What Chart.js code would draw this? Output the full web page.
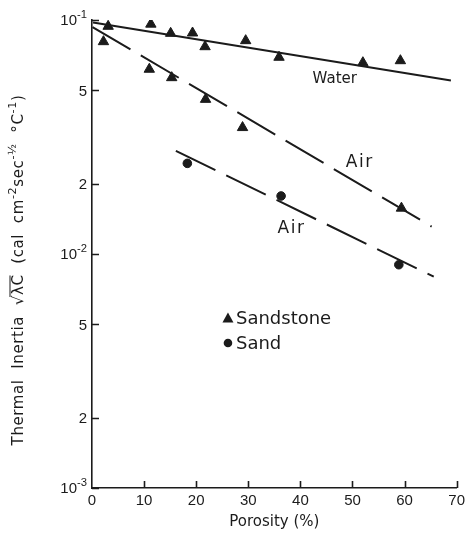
<!DOCTYPE html>
<html>
<head>
<meta charset="utf-8">
<script src="https://cdn.jsdelivr.net/npm/chart.js@4.4.1/dist/chart.umd.min.js"></script>
<style>
  html, body { margin: 0; padding: 0; background: #fff; }
  #wrap { width: 469px; height: 533px; }
</style>
</head>
<body>
<div id="wrap"><canvas id="chart" width="469" height="533"></canvas></div>
<script>
// Sandstone points (triangles) and sand points (circles)
const sandstoneX = [3.1, 11.3, 15.1, 19.3, 21.7, 29.5, 35.9, 52, 59.2, 2.2, 11, 15.3, 21.8, 28.9, 59.4];
const sandstoneY = [0.094, 0.096, 0.0877, 0.088, 0.0769, 0.0816, 0.0693, 0.0657, 0.067, 0.0808, 0.0616, 0.0567, 0.0458, 0.0347, 0.0157];
const sandX = [18.3, 36.3, 58.9];
const sandY = [0.0244, 0.0177, 0.009];

// fitted lines
const waterLineX = [0.2, 68.9];
const waterLineY = [0.0975, 0.0551];
const airStoneLineX = [0.1, 65.2];
const airStoneLineY = [0.0933, 0.0131];
const airSandLineX = [16.1, 65.6];
const airSandLineY = [0.0276, 0.008];

const xTicks = [0, 10, 20, 30, 40, 50, 60, 70];
const yTicks = [0.001, 0.002, 0.005, 0.01, 0.02, 0.05, 0.1];
const yTickText = [["10", "-3"], ["2", ""], ["5", ""], ["10", "-2"], ["2", ""], ["5", ""], ["10", "-1"]];

// text labels placed in data units
const notes = [
  { text: "Water", x: 46.6, y: 0.056, size: 15, spacing: 0 },
  { text: "Air", x: 51.4, y: 0.0246, size: 17, spacing: 1.5 },
  { text: "Air", x: 38.3, y: 0.0129, size: 17, spacing: 1.5 }
];

const ink = "#1b1b1b";
const font = "'Liberation Sans', Arial, sans-serif";
const wide = "'DejaVu Sans', sans-serif";

const pts = (xs, ys) => xs.map((x, i) => ({ x: x, y: ys[i] }));

function richWidth(ctx, parts, size, fam) {
  let w = 0;
  parts.forEach(p => {
    ctx.font = (p[1] ? size * 0.75 : size) + "px " + fam;
    w += ctx.measureText(p[0]).width;
  });
  return w;
}
function drawRich(ctx, parts, size, fam, x, y) {
  let cx = x;
  parts.forEach(p => {
    ctx.font = (p[1] ? size * 0.75 : size) + "px " + fam;
    ctx.fillText(p[0], cx, p[1] ? y - size * 0.42 : y);
    cx += ctx.measureText(p[0]).width;
  });
}

const decor = {
  id: "decor",
  afterDatasetsDraw(chart) {
    const ctx = chart.ctx;
    const xs = chart.scales.x, ys = chart.scales.y;
    const area = chart.chartArea;
    ctx.save();
    ctx.strokeStyle = ink;
    ctx.fillStyle = ink;
    ctx.lineWidth = 1.6;

    // inward ticks
    ctx.beginPath();
    yTicks.forEach(v => {
      const py = Math.round(ys.getPixelForValue(v)) + 0.5;
      ctx.moveTo(area.left, py);
      ctx.lineTo(area.left + 7, py);
    });
    xTicks.slice(1).forEach(v => {
      const px = Math.round(xs.getPixelForValue(v)) + 0.5;
      ctx.moveTo(px, area.bottom);
      ctx.lineTo(px, area.bottom - 7);
    });
    ctx.stroke();

    // y tick labels with superscripts
    ctx.textBaseline = "middle";
    ctx.textAlign = "left";
    yTicks.forEach((v, i) => {
      const parts = [[yTickText[i][0], false]];
      if (yTickText[i][1]) parts.push([yTickText[i][1], true]);
      const w = richWidth(ctx, parts, 15, font);
      const py = ys.getPixelForValue(v);
      drawRich(ctx, parts, 15, font, area.left - 5 - w, py + 1);
    });

    // series labels
    ctx.textAlign = "center";
    notes.forEach(n => {
      ctx.font = n.size + "px " + wide;
      ctx.letterSpacing = n.spacing + "px";
      ctx.fillText(n.text, xs.getPixelForValue(n.x), ys.getPixelForValue(n.y));
    });
    ctx.letterSpacing = "0px";

    // legend
    const lx = xs.getPixelForValue(26.1);
    const ly1 = ys.getPixelForValue(0.00533);
    const ly2 = ly1 + 25;
    ctx.beginPath();
    ctx.moveTo(lx, ly1 - 5.5);
    ctx.lineTo(lx + 5.5, ly1 + 4.5);
    ctx.lineTo(lx - 5.5, ly1 + 4.5);
    ctx.closePath();
    ctx.fill();
    ctx.beginPath();
    ctx.arc(lx, ly2, 4.3, 0, Math.PI * 2);
    ctx.fill();
    ctx.textAlign = "left";
    ctx.font = "18px " + wide;
    ctx.fillText("Sandstone", lx + 8, ly1 + 1);
    ctx.fillText("Sand", lx + 8, ly2 + 1);

    // y axis title
    const title = [["Thermal  Inertia  \u221A", false], ["\u03BBC", false], ["  (cal  cm", false], ["-2", true],
      ["sec", false], ["-\u00BD", true], ["  \u00B0C", false], ["-1", true], [")", false]];
    const tsize = 15;
    ctx.letterSpacing = "0.6px";
    const tw = richWidth(ctx, title, tsize, wide);
    ctx.translate(19, 270);
    ctx.rotate(-Math.PI / 2);
    ctx.textAlign = "left";
    drawRich(ctx, title, tsize, wide, -tw / 2, 0);
    // overline on lambda C
    ctx.font = tsize + "px " + wide;
    const pre = ctx.measureText("Thermal  Inertia  ").width;
    const root = ctx.measureText("\u221A").width;
    const lc = ctx.measureText("\u03BBC").width;
    ctx.lineWidth = 1;
    ctx.beginPath();
    ctx.moveTo(-tw / 2 + pre + root - 2, -9);
    ctx.lineTo(-tw / 2 + pre + root + lc - 1, -9);
    ctx.stroke();
    ctx.restore();
  }
};

new Chart(document.getElementById("chart"), {
  type: "scatter",
  data: {
    datasets: [
      {
        label: "Water",
        data: pts(waterLineX, waterLineY),
        showLine: true,
        borderColor: ink,
        borderWidth: 2,
        pointRadius: 0
      },
      {
        label: "Air (sandstone)",
        data: pts(airStoneLineX, airStoneLineY),
        showLine: true,
        borderColor: ink,
        borderWidth: 2,
        borderDash: [44, 12],
        pointRadius: 0
      },
      {
        label: "Air (sand)",
        data: pts(airSandLineX, airSandLineY),
        showLine: true,
        borderColor: ink,
        borderWidth: 2,
        borderDash: [44, 12],
        pointRadius: 0
      },
      {
        label: "Sandstone",
        data: pts(sandstoneX, sandstoneY),
        pointStyle: "triangle",
        pointRadius: 6,
        backgroundColor: ink,
        borderColor: ink,
        borderWidth: 1
      },
      {
        label: "Sand",
        data: pts(sandX, sandY),
        pointStyle: "circle",
        pointRadius: 4.3,
        backgroundColor: ink,
        borderColor: ink,
        borderWidth: 1
      }
    ]
  },
  options: {
    responsive: false,
    animation: false,
    layout: { padding: { top: 20, right: 12, left: 0, bottom: 0 } },
    plugins: {
      legend: { display: false },
      tooltip: { enabled: false }
    },
    scales: {
      x: {
        type: "linear",
        min: 0,
        max: 70,
        grid: { display: false, drawTicks: false },
        border: { display: true, color: ink, width: 1.6 },
        afterBuildTicks: s => { s.ticks = xTicks.map(v => ({ value: v })); },
        afterFit: s => { s.height = 45; },
        ticks: {
          color: ink,
          padding: 4,
          maxRotation: 0,
          font: { family: font, size: 15 }
        },
        title: {
          display: true,
          text: "Porosity (%)",
          color: ink,
          padding: { top: 0, bottom: 2 },
          font: { family: wide, size: 15 }
        }
      },
      y: {
        type: "logarithmic",
        min: 0.001,
        max: 0.1,
        grid: { display: false },
        border: { display: true, color: ink, width: 1.6 },
        afterBuildTicks: s => { s.ticks = yTicks.map(v => ({ value: v })); },
        afterFit: s => { s.width = 92; },
        ticks: { display: false }
      }
    }
  },
  plugins: [decor]
});
</script>
</body>
</html>
